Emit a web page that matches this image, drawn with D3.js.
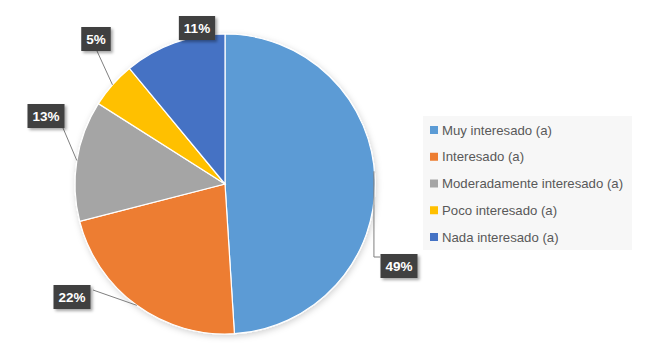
<!DOCTYPE html>
<html><head><meta charset="utf-8">
<script src="https://cdn.jsdelivr.net/npm/d3@7/dist/d3.min.js"></script>
<style>body{margin:0;background:#fff;} svg{display:block;}</style>
</head><body>
<svg id="chart" width="654" height="357"></svg>
<script>
const categories = ["Muy interesado (a)", "Interesado (a)", "Moderadamente interesado (a)", "Poco interesado (a)", "Nada interesado (a)"];
const values = [49, 22, 13, 5, 11];
const colors = ["#5B9BD5", "#ED7D31", "#A5A5A5", "#FFC000", "#4472C4"];

// label box centres (layout, not data)
const labelCenters = [[399, 266], [72, 297], [46, 116], [96, 39], [197, 28]];

const W = 654, H = 357;
const cx = 225, cy = 184, R = 150;
const svg = d3.select("#chart");
const defs = svg.append("defs");
const f = defs.append("filter").attr("id", "sh").attr("x", "-30%").attr("y", "-30%").attr("width", "160%").attr("height", "160%");
f.append("feDropShadow").attr("dx", 2).attr("dy", 2).attr("stdDeviation", 1.5).attr("flood-color", "#000").attr("flood-opacity", 0.35);
const f2 = defs.append("filter").attr("id", "psh").attr("x", "-20%").attr("y", "-20%").attr("width", "140%").attr("height", "140%");
f2.append("feDropShadow").attr("dx", 1).attr("dy", 2).attr("stdDeviation", 3).attr("flood-color", "#000").attr("flood-opacity", 0.18);

const data = categories.map((c, i) => ({ cat: c, value: values[i], color: colors[i] }));
const pie = d3.pie().value(d => d.value).sort(null);
const arcs = pie(data);
const arc = d3.arc().innerRadius(0).outerRadius(R);
const edgeArc = d3.arc().innerRadius(R).outerRadius(R);

const g = svg.append("g").attr("transform", `translate(${cx},${cy})`);
g.append("g").attr("filter", "url(#psh)").selectAll("path").data(arcs).join("path")
  .attr("d", arc).attr("fill", d => d.data.color)
  .attr("stroke", "#fff").attr("stroke-width", 1.2);

// leader lines
const lg = svg.append("g").attr("fill", "none").attr("stroke", "#7f7f7f").attr("stroke-width", 1);
arcs.forEach((a, i) => {
  const [ex, ey] = edgeArc.centroid(a);
  const px = cx + ex, py = cy + ey;
  const [lx, ly] = labelCenters[i];
  let pts = null;
  if (i === 0) pts = [[px - 1, py - 8], [px - 1, ly - 9], [lx - 19, ly - 9]];
  else if (i === 1) pts = [[px, py], [lx + 21, ly - 7]];
  else if (i === 2) pts = [[px, py], [lx + 17, ly + 12]];
  else if (i === 3) pts = [[px, py], [lx + 1, ly + 12]];
  if (pts) lg.append("path").attr("d", d3.line()(pts));
});

// labels
const lab = svg.append("g");
arcs.forEach((a, i) => {
  const [lx, ly] = labelCenters[i];
  const txt = d3.format(".0%")(a.data.value / 100);
  const t = lab.append("text").attr("x", lx).attr("y", ly + 5)
    .attr("text-anchor", "middle").attr("font-family", "'Liberation Sans', Arial, sans-serif")
    .attr("font-weight", "bold").attr("font-size", 13.5).attr("fill", "#fff").text(txt);
  const bb = t.node().getBBox();
  const bw = bb.width + 10, bh = 24;
  lab.insert("rect", "text").attr("x", lx - bw / 2).attr("y", ly - bh / 2)
    .attr("width", bw).attr("height", bh).attr("fill", "#404040").attr("filter", "url(#sh)");
});

// legend
const leg = svg.append("g");
leg.append("rect").attr("x", 423).attr("y", 116).attr("width", 209).attr("height", 134).attr("fill", "#f7f7f7");
const rowY = d3.scalePoint().domain(categories).range([130, 237]);
categories.forEach((c, i) => {
  const y = rowY(c);
  leg.append("rect").attr("x", 430).attr("y", y - 4).attr("width", 8).attr("height", 8).attr("fill", colors[i]);
  leg.append("text").attr("x", 442).attr("y", y + 4.5)
    .attr("font-family", "'Liberation Sans', Arial, sans-serif").attr("font-size", 13.2)
    .attr("fill", "#595959").text(c);
});
</script>
</body></html>
